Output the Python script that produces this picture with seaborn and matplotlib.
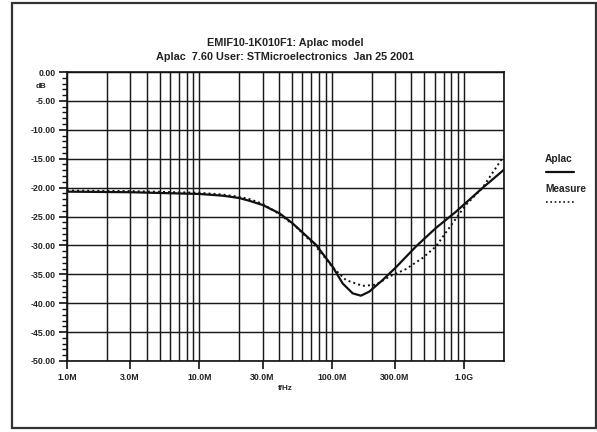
import numpy as np
import pandas as pd
import matplotlib
matplotlib.use("Agg")
import matplotlib.pyplot as plt
import seaborn as sns
from matplotlib.lines import Line2D
from matplotlib.patches import Rectangle
from matplotlib.ticker import FixedLocator, LogLocator, NullFormatter

# ---- data (frequency in Hz, attenuation in dB) ----
aplac_f = [1e6, 3e6, 10e6, 15e6, 20e6, 24e6, 30e6, 40.3e6, 50.7e6, 76e6, 101.6e6,
           121e6, 144e6, 166e6, 192e6, 242e6, 305e6, 432e6, 611e6, 864e6, 1.37e9, 2e9]
aplac_db = [-20.7, -20.8, -21.1, -21.4, -21.8, -22.3, -23.0, -24.45, -26.2, -29.9, -33.7,
            -36.6, -38.3, -38.7, -38.0, -36.0, -33.8, -30.2, -27.0, -24.2, -20.1, -16.9]

meas_f = [1e6, 3e6, 10e6, 15e6, 20e6, 24e6, 30e6, 40.3e6, 53.8e6, 76e6, 101.6e6,
          128e6, 171e6, 216e6, 272e6, 363e6, 484e6, 611e6, 815e6, 1.03e9, 1.37e9, 2e9]
meas_db = [-20.5, -20.6, -20.9, -21.2, -21.6, -22.0, -22.8, -24.6, -26.8, -30.2, -33.8,
           -36.0, -37.0, -36.8, -35.4, -34.1, -32.2, -30.2, -26.2, -23.0, -20.1, -14.5]

xtick_vals = [1e6, 3e6, 10e6, 30e6, 100e6, 300e6, 1e9]
xtick_labels = ["1.0M", "3.0M", "10.0M", "30.0M", "100.0M", "300.0M", "1.0G"]
ytick_vals = [0, -5, -10, -15, -20, -25, -30, -35, -40, -45, -50]
ytick_labels = ["0.00", "-5.00", "-10.00", "-15.00", "-20.00", "-25.00", "-30.00",
                "-35.00", "-40.00", "-45.00", "-50.00"]

title1 = "EMIF10-1K010F1: Aplac model"
title2 = "Aplac  7.60 User: STMicroelectronics  Jan 25 2001"

sns.set_theme(style="white")
plt.rcParams["font.family"] = ["Liberation Sans", "DejaVu Sans"]
plt.rcParams["font.weight"] = "bold"

W, H = 597, 432
fig = plt.figure(figsize=(W / 100, H / 100), dpi=100)
L, R, T, B = 67, 504, 72, 361
ax = fig.add_axes([L / W, 1 - B / H, (R - L) / W, (B - T) / H])

df_a = pd.DataFrame({"f": aplac_f, "dB": aplac_db})
df_m = pd.DataFrame({"f": meas_f, "dB": meas_db})
sns.lineplot(data=df_a, x="f", y="dB", ax=ax, color="#111111", linewidth=1.6,
             estimator=None, sort=True, zorder=5)
sns.lineplot(data=df_m, x="f", y="dB", ax=ax, color="#111111", linewidth=1.4,
             linestyle=(0, (1, 1.6)), estimator=None, sort=True, zorder=5)

ax.set_xscale("log")
ax.set_xlim(1e6, 2e9)
ax.set_ylim(-50, 0)
ax.set_xlabel("")
ax.set_ylabel("")

ax.xaxis.set_major_locator(FixedLocator(xtick_vals))
ax.set_xticklabels(xtick_labels)
ax.xaxis.set_minor_locator(LogLocator(base=10, subs=np.arange(1, 10)))
ax.xaxis.set_minor_formatter(NullFormatter())
ax.set_yticks(ytick_vals)
ax.set_yticklabels(ytick_labels)
ax.yaxis.set_minor_locator(FixedLocator(np.arange(-50, 1, 1)))

ax.tick_params(axis="both", which="major", direction="out", length=6, width=1.2,
               color="#111111", labelsize=6.3, pad=2, bottom=True, left=True)
ax.tick_params(axis="x", which="major", pad=3)
ax.tick_params(axis="y", which="minor", direction="out", length=3.5, width=1.0,
               color="#111111", left=True)
ax.tick_params(axis="x", which="minor", length=0)
for lab in ax.get_xticklabels() + ax.get_yticklabels():
    lab.set_fontweight("bold")
    lab.set_color("#222222")

ax.grid(True, which="both", axis="x", color="#1a1a1a", linewidth=1.05)
ax.grid(True, which="major", axis="y", color="#1a1a1a", linewidth=1.05)
ax.set_axisbelow(True)
for s in ax.spines.values():
    s.set_color("#111111")
    s.set_linewidth(1.2)

# titles and axis labels
cx = (L + R) / 2 / W
fig.text(cx, 1 - 43 / H, title1, ha="center", va="center", fontsize=7.8, fontweight="bold", color="#222222")
fig.text(cx, 1 - 57 / H, title2, ha="center", va="center", fontsize=7.8, fontweight="bold", color="#222222")
fig.text(41 / W, 1 - 86 / H, "dB", ha="center", va="center", fontsize=5.8, fontweight="bold", color="#222222")
fig.text(cx, 1 - 388 / H, "f/Hz", ha="center", va="center", fontsize=5.8, fontweight="bold", color="#222222")

# legend
fig.text(545 / W, 1 - 159 / H, "Aplac", ha="left", va="center", fontsize=7.3, fontweight="bold", color="#222222")
fig.add_artist(Line2D([546 / W, 574 / W], [1 - 172 / H, 1 - 172 / H], color="#111111", linewidth=1.6))
fig.text(545 / W, 1 - 189 / H, "Measure", ha="left", va="center", fontsize=7.3, fontweight="bold", color="#222222")
fig.add_artist(Line2D([546 / W, 574 / W], [1 - 202 / H, 1 - 202 / H], color="#111111",
                      linewidth=1.2, linestyle=(0, (1, 1.6))))

# outer frame
fig.add_artist(Rectangle((12 / W, 1 - 428 / H), (596 - 12) / W, (428 - 3) / H,
                         transform=fig.transFigure, fill=False, edgecolor="#333333", linewidth=1.6))

fig.savefig("out.png", dpi=100)
